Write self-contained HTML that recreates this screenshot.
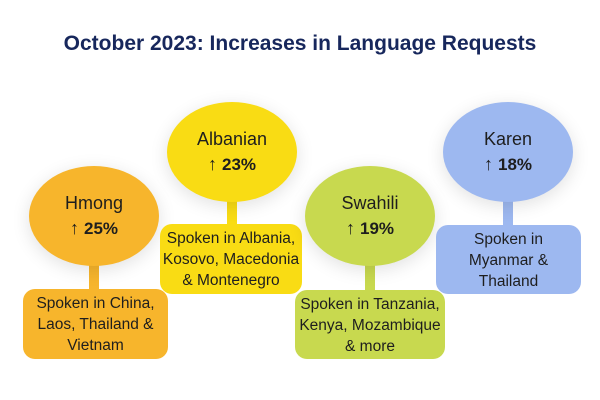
<!DOCTYPE html>
<html><head><style>
body{margin:0;width:600px;height:400px;background:#fff;position:relative;overflow:hidden;font-family:"Liberation Sans",sans-serif;color:#1e1e1e}
.t{position:absolute;left:0;top:32px;width:600px;text-align:center;font-weight:bold;font-size:21px;color:#17275c}
.e{position:absolute;width:130px;height:100px;border-radius:50%;text-align:center;box-shadow:0 4px 18px rgba(0,0,0,0.12);font-size:18px;line-height:25px;box-sizing:border-box;padding-top:25px}
.e b{font-size:17px}
.s{position:absolute;width:10px}
.b{position:absolute;border-radius:12px;text-align:center;font-size:15.5px;line-height:21px;box-sizing:border-box;padding-top:4px;white-space:nowrap}
</style></head><body>
<div class="t">October 2023: Increases in Language Requests</div>

<div class="s" style="left:89px;top:260px;height:32px;background:#f7b52c"></div>
<div class="e" style="left:29px;top:166px;background:#f7b52c">Hmong<br>↑ <b>25%</b></div>
<div class="b" style="left:23px;top:289px;width:145px;height:70px;background:#f7b52c">Spoken in China,<br>Laos, Thailand &amp;<br>Vietnam</div>

<div class="s" style="left:227px;top:196px;height:30px;background:#f9dc14"></div>
<div class="e" style="left:167px;top:102px;background:#f9dc14">Albanian<br>↑ <b>23%</b></div>
<div class="b" style="left:160px;top:224px;width:142px;height:70px;background:#f9dc14">Spoken in Albania,<br>Kosovo, Macedonia<br>&amp; Montenegro</div>

<div class="s" style="left:365px;top:260px;height:32px;background:#c8d94f"></div>
<div class="e" style="left:305px;top:166px;background:#c8d94f">Swahili<br>↑ <b>19%</b></div>
<div class="b" style="left:295px;top:290px;width:150px;height:69px;background:#c8d94f">Spoken in Tanzania,<br>Kenya, Mozambique<br>&amp; more</div>

<div class="s" style="left:503px;top:196px;height:30px;background:#9db8f0"></div>
<div class="e" style="left:443px;top:102px;background:#9db8f0">Karen<br>↑ <b>18%</b></div>
<div class="b" style="left:436px;top:225px;width:145px;height:69px;background:#9db8f0">Spoken in<br>Myanmar &amp;<br>Thailand</div>
</body></html>
